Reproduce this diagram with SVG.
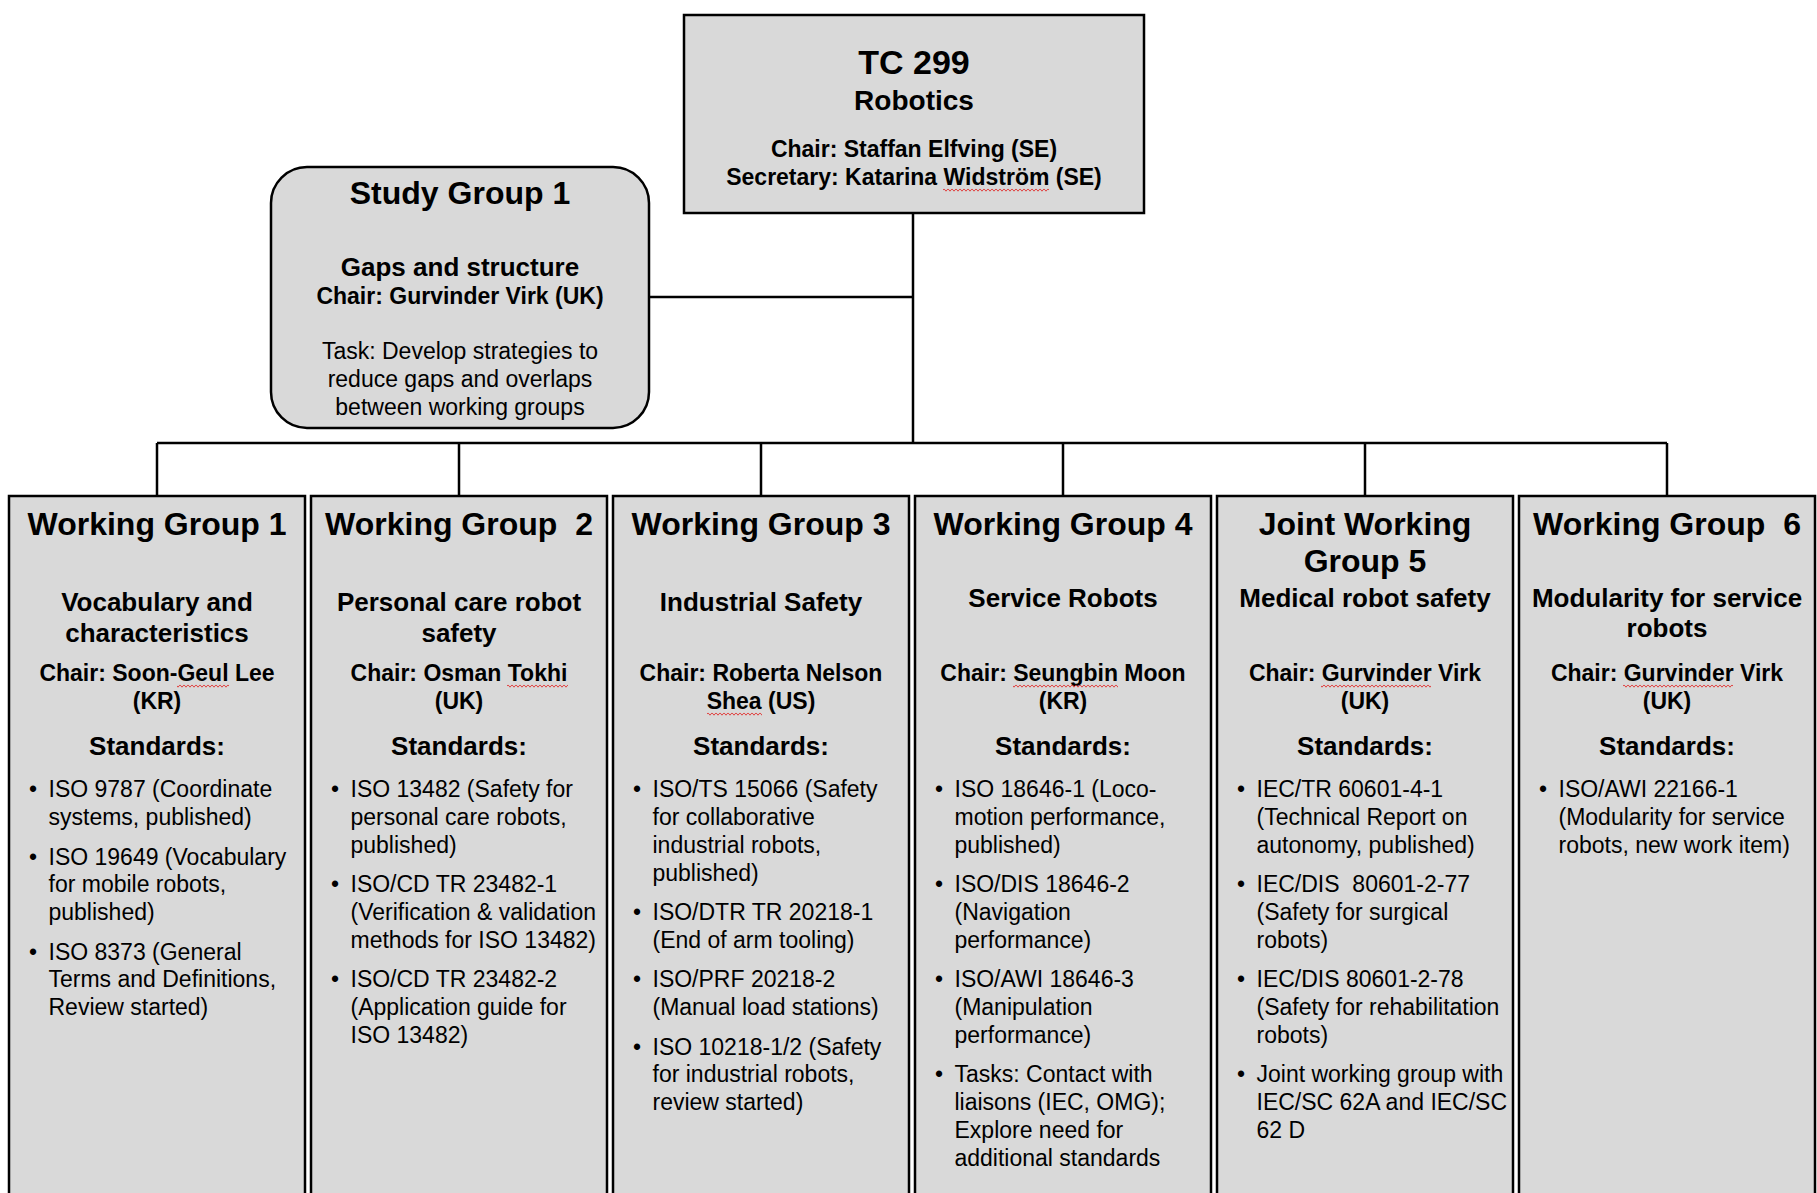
<svg xmlns="http://www.w3.org/2000/svg" width="1817" height="1193" viewBox="0 0 1817 1193">
<style>
.box{fill:#d9d9d9;stroke:#000;stroke-width:2.5}
.conn{fill:none;stroke:#000;stroke-width:2.5}
text{font-family:"Liberation Sans",Arial,sans-serif;fill:#000}
.h1{font-size:32px;font-weight:bold;text-anchor:middle}
.sub{font-size:26px;font-weight:bold;text-anchor:middle}
.chair{font-size:23px;font-weight:bold;text-anchor:middle}
.std{font-size:26px;font-weight:bold;text-anchor:middle}
.b{font-size:23px}
.c{font-size:23px;text-anchor:middle}
.sq{fill:url(#squig)}
</style>
<defs>
<pattern id="squig" width="4" height="4" patternUnits="userSpaceOnUse"><path d="M0,0.8 L2,3.2 L4,0.8" fill="none" stroke="#e0302f" stroke-width="0.9"/></pattern>
</defs>
<rect width="1817" height="1193" fill="#fff"/>
<g id="connectors">
<path class="conn" d="M913,213 V443"/>
<path class="conn" d="M649,297 H913"/>
<path class="conn" d="M157,443 H1667"/>
<path class="conn" d="M157,443 V496 M459,443 V496 M761,443 V496 M1063,443 V496 M1365,443 V496 M1667,443 V496"/>
</g>
<g id="tc299">
<rect class="box" x="684" y="15" width="460" height="198"/>
<text x="914" y="74" style="font-size:34px;font-weight:bold;text-anchor:middle">TC 299</text>
<text x="914" y="110" style="font-size:28px;font-weight:bold;text-anchor:middle">Robotics</text>
<text class="chair" x="914" y="157">Chair: Staffan Elfving (SE)</text>
<text class="chair" x="914" y="185">Secretary: Katarina Widström (SE)</text>
<rect class="sq" x="943" y="188" width="106" height="4"/>
</g>
<g id="sg1">
<rect class="box" x="271" y="167" width="378" height="261" rx="36" ry="36"/>
<text class="h1" x="460" y="204">Study Group 1</text>
<text class="sub" x="460" y="276">Gaps and structure</text>
<text class="chair" x="460" y="304">Chair: Gurvinder Virk (UK)</text>
<text class="c" x="460" y="359">Task: Develop strategies to</text>
<text class="c" x="460" y="387">reduce gaps and overlaps</text>
<text class="c" x="460" y="415">between working groups</text>
</g>
<g id="wg1">
<rect class="box" x="9" y="496" width="296" height="720"/>
<text class="h1" x="157" y="535">Working Group 1</text>
<text class="sub" x="157" y="611">Vocabulary and</text>
<text class="sub" x="157" y="642">characteristics</text>
<text class="chair" x="157" y="681">Chair: Soon-Geul Lee</text>
<text class="chair" x="157" y="709">(KR)</text>
<rect class="sq" x="177" y="684" width="52" height="4"/>
<text class="std" x="157" y="755">Standards:</text>
<text class="b" x="29" y="797.3">•</text>
<text class="b" x="48.5" y="797.3">ISO 9787 (Coordinate</text>
<text class="b" x="48.5" y="825.1">systems, published)</text>
<text class="b" x="29" y="864.5">•</text>
<text class="b" x="48.5" y="864.5">ISO 19649 (Vocabulary</text>
<text class="b" x="48.5" y="892.3">for mobile robots,</text>
<text class="b" x="48.5" y="920.1">published)</text>
<text class="b" x="29" y="959.5">•</text>
<text class="b" x="48.5" y="959.5">ISO 8373 (General</text>
<text class="b" x="48.5" y="987.3">Terms and Definitions,</text>
<text class="b" x="48.5" y="1015.1">Review started)</text>
</g>
<g id="wg2">
<rect class="box" x="311" y="496" width="296" height="720"/>
<text class="h1" x="459" y="535" xml:space="preserve">Working Group  2</text>
<text class="sub" x="459" y="611">Personal care robot</text>
<text class="sub" x="459" y="642">safety</text>
<text class="chair" x="459" y="681">Chair: Osman Tokhi</text>
<text class="chair" x="459" y="709">(UK)</text>
<rect class="sq" x="507" y="684" width="61" height="4"/>
<text class="std" x="459" y="755">Standards:</text>
<text class="b" x="331" y="797.3">•</text>
<text class="b" x="350.5" y="797.3">ISO 13482 (Safety for</text>
<text class="b" x="350.5" y="825.1">personal care robots,</text>
<text class="b" x="350.5" y="852.9">published)</text>
<text class="b" x="331" y="892.3">•</text>
<text class="b" x="350.5" y="892.3">ISO/CD TR 23482-1</text>
<text class="b" x="350.5" y="920.1">(Verification &amp; validation</text>
<text class="b" x="350.5" y="947.9">methods for ISO 13482)</text>
<text class="b" x="331" y="987.3">•</text>
<text class="b" x="350.5" y="987.3">ISO/CD TR 23482-2</text>
<text class="b" x="350.5" y="1015.1">(Application guide for</text>
<text class="b" x="350.5" y="1042.9">ISO 13482)</text>
</g>
<g id="wg3">
<rect class="box" x="613" y="496" width="296" height="720"/>
<text class="h1" x="761" y="535">Working Group 3</text>
<text class="sub" x="761" y="611">Industrial Safety</text>
<text class="chair" x="761" y="681">Chair: Roberta Nelson</text>
<text class="chair" x="761" y="709">Shea (US)</text>
<rect class="sq" x="707" y="712" width="55" height="4"/>
<text class="std" x="761" y="755">Standards:</text>
<text class="b" x="633" y="797.3">•</text>
<text class="b" x="652.5" y="797.3">ISO/TS 15066 (Safety</text>
<text class="b" x="652.5" y="825.1">for collaborative</text>
<text class="b" x="652.5" y="852.9">industrial robots,</text>
<text class="b" x="652.5" y="880.7">published)</text>
<text class="b" x="633" y="920.1">•</text>
<text class="b" x="652.5" y="920.1">ISO/DTR TR 20218-1</text>
<text class="b" x="652.5" y="947.9">(End of arm tooling)</text>
<text class="b" x="633" y="987.3">•</text>
<text class="b" x="652.5" y="987.3">ISO/PRF 20218-2</text>
<text class="b" x="652.5" y="1015.1">(Manual load stations)</text>
<text class="b" x="633" y="1054.5">•</text>
<text class="b" x="652.5" y="1054.5">ISO 10218-1/2 (Safety</text>
<text class="b" x="652.5" y="1082.3">for industrial robots,</text>
<text class="b" x="652.5" y="1110.1">review started)</text>
</g>
<g id="wg4">
<rect class="box" x="915" y="496" width="296" height="720"/>
<text class="h1" x="1063" y="535">Working Group 4</text>
<text class="sub" x="1063" y="607">Service Robots</text>
<text class="chair" x="1063" y="681">Chair: Seungbin Moon</text>
<text class="chair" x="1063" y="709">(KR)</text>
<rect class="sq" x="1013" y="684" width="105" height="4"/>
<text class="std" x="1063" y="755">Standards:</text>
<text class="b" x="935" y="797.3">•</text>
<text class="b" x="954.5" y="797.3">ISO 18646-1 (Loco-</text>
<text class="b" x="954.5" y="825.1">motion performance,</text>
<text class="b" x="954.5" y="852.9">published)</text>
<text class="b" x="935" y="892.3">•</text>
<text class="b" x="954.5" y="892.3">ISO/DIS 18646-2</text>
<text class="b" x="954.5" y="920.1">(Navigation</text>
<text class="b" x="954.5" y="947.9">performance)</text>
<text class="b" x="935" y="987.3">•</text>
<text class="b" x="954.5" y="987.3">ISO/AWI 18646-3</text>
<text class="b" x="954.5" y="1015.1">(Manipulation</text>
<text class="b" x="954.5" y="1042.9">performance)</text>
<text class="b" x="935" y="1082.3">•</text>
<text class="b" x="954.5" y="1082.3">Tasks: Contact with</text>
<text class="b" x="954.5" y="1110.1">liaisons (IEC, OMG);</text>
<text class="b" x="954.5" y="1138">Explore need for</text>
<text class="b" x="954.5" y="1165.8">additional standards</text>
</g>
<g id="jwg5">
<rect class="box" x="1217" y="496" width="296" height="720"/>
<text class="h1" x="1365" y="535">Joint Working</text>
<text class="h1" x="1365" y="572">Group 5</text>
<text class="sub" x="1365" y="607">Medical robot safety</text>
<text class="chair" x="1365" y="681">Chair: Gurvinder Virk</text>
<text class="chair" x="1365" y="709">(UK)</text>
<rect class="sq" x="1321" y="684" width="110" height="4"/>
<text class="std" x="1365" y="755">Standards:</text>
<text class="b" x="1237" y="797.3">•</text>
<text class="b" x="1256.5" y="797.3">IEC/TR 60601-4-1</text>
<text class="b" x="1256.5" y="825.1">(Technical Report on</text>
<text class="b" x="1256.5" y="852.9">autonomy, published)</text>
<text class="b" x="1237" y="892.3">•</text>
<text class="b" x="1256.5" y="892.3" xml:space="preserve">IEC/DIS  80601-2-77</text>
<text class="b" x="1256.5" y="920.1">(Safety for surgical</text>
<text class="b" x="1256.5" y="947.9">robots)</text>
<text class="b" x="1237" y="987.3">•</text>
<text class="b" x="1256.5" y="987.3">IEC/DIS 80601-2-78</text>
<text class="b" x="1256.5" y="1015.1">(Safety for rehabilitation</text>
<text class="b" x="1256.5" y="1042.9">robots)</text>
<text class="b" x="1237" y="1082.3">•</text>
<text class="b" x="1256.5" y="1082.3">Joint working group with</text>
<text class="b" x="1256.5" y="1110.1">IEC/SC 62A and IEC/SC</text>
<text class="b" x="1256.5" y="1138">62 D</text>
</g>
<g id="wg6">
<rect class="box" x="1519" y="496" width="296" height="720"/>
<text class="h1" x="1667" y="535" xml:space="preserve">Working Group  6</text>
<text class="sub" x="1667" y="607">Modularity for service</text>
<text class="sub" x="1667" y="637">robots</text>
<text class="chair" x="1667" y="681">Chair: Gurvinder Virk</text>
<text class="chair" x="1667" y="709">(UK)</text>
<rect class="sq" x="1623" y="684" width="110" height="4"/>
<text class="std" x="1667" y="755">Standards:</text>
<text class="b" x="1539" y="797.3">•</text>
<text class="b" x="1558.5" y="797.3">ISO/AWI 22166-1</text>
<text class="b" x="1558.5" y="825.1">(Modularity for service</text>
<text class="b" x="1558.5" y="852.9">robots, new work item)</text>
</g>
</svg>
